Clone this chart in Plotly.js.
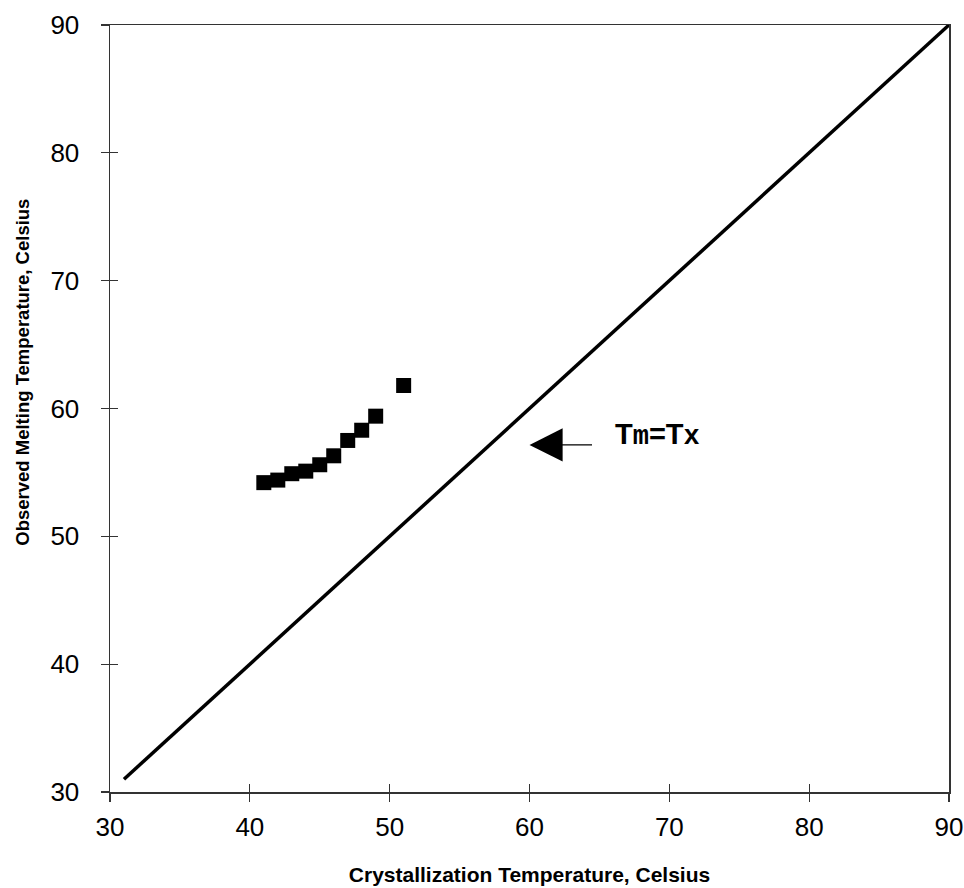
<!DOCTYPE html>
<html>
<head>
<meta charset="utf-8">
<script src="https://cdn.plot.ly/plotly-3.0.1.min.js"></script>
<style>html,body{margin:0;padding:0;background:#fff;}#chart{width:964px;height:888px;}</style>
</head>
<body>
<div id="chart"></div>
<script>
// Observed data: crystallization temperature vs observed melting temperature
const crystTemp = [41, 42, 43, 44, 45, 46, 47, 48, 49, 51];
const meltTemp  = [54.2, 54.4, 54.9, 55.1, 55.6, 56.3, 57.5, 58.3, 59.4, 61.8];
// Tm = Tx reference line
const lineX = [31, 90];
const lineY = [31, 90];
const tickVals = [30, 40, 50, 60, 70, 80, 90];
const tickText = ['30', '40', '50', '60', '70', '80', '90'];
const xTitle = 'Crystallization Temperature, Celsius';
const yTitle = 'Observed Melting Temperature, Celsius';

const axisFont = {family: 'Liberation Sans, Arial, sans-serif', size: 26, color: '#000'};
const titleFont = {family: 'Liberation Sans, Arial, sans-serif', size: 21, color: '#000', weight: 'bold'};

const traces = [
  {x: lineX, y: lineY, mode: 'lines', type: 'scatter',
   line: {color: '#000', width: 3.5}, cliponaxis: false, hoverinfo: 'skip', showlegend: false},
  {x: crystTemp, y: meltTemp, mode: 'markers', type: 'scatter',
   marker: {symbol: 'square', size: 15, color: '#000', line: {width: 0}}, showlegend: false},
  // invisible trace on overlay axes to draw inward half of crossing ticks
  {x: [30], y: [30], xaxis: 'x2', yaxis: 'y2', mode: 'markers', marker: {opacity: 0}, hoverinfo: 'skip', showlegend: false}
];

const baseAxis = {
  range: [30, 90], tickvals: tickVals, ticktext: tickText,
  showgrid: false, zeroline: false, showline: true, linecolor: '#333', linewidth: 1.5,
  mirror: true, ticks: 'outside', ticklen: 8, tickwidth: 1.2, tickcolor: '#333',
  tickfont: axisFont
};

const layout = {
  width: 964, height: 888,
  margin: {l: 110, r: 15, t: 25, b: 96},
  paper_bgcolor: '#fff', plot_bgcolor: '#fff',
  showlegend: false,
  xaxis: Object.assign({}, baseAxis, {
    ticklabelstandoff: 3,
    title: {text: xTitle, font: titleFont, standoff: 26}
  }),
  yaxis: Object.assign({}, baseAxis, {
    ticklabelstandoff: 16
  }),
  xaxis2: {range: [30, 90], overlaying: 'x', tickvals: tickVals, showticklabels: false,
    ticks: 'inside', ticklen: 8, tickwidth: 1.2, tickcolor: '#333', showgrid: false, zeroline: false, showline: false},
  yaxis2: {range: [30, 90], overlaying: 'y', tickvals: tickVals, showticklabels: false,
    ticks: 'inside', ticklen: 8, tickwidth: 1.2, tickcolor: '#333', showgrid: false, zeroline: false, showline: false},
  annotations: [
    {xref: 'paper', yref: 'paper', x: -0.104, y: 0.5476, text: yTitle, textangle: -90,
     showarrow: false, font: {family: 'Liberation Sans, Arial, sans-serif', size: 18.5, color: '#000', weight: 'bold'},
     xanchor: 'center', yanchor: 'middle'},
    {xref: 'x', yref: 'y', x: 60, y: 57.15, text: '', showarrow: true,
     ax: 64, ay: 0, arrowhead: 2, arrowwidth: 1.3, arrowsize: 5.1, arrowcolor: '#000', standoff: 0},
    {xref: 'x', yref: 'y', x: 65.97, y: 57.9, xanchor: 'left', yanchor: 'middle', showarrow: false,
     text: "<b>T</b><span style='font-family:Liberation Mono, Courier New, monospace;font-size:27px;font-weight:bold'>m</span><b>=T</b><span style='font-family:Liberation Mono, Courier New, monospace;font-size:27px;font-weight:bold'>x</span>",
     font: {family: 'Liberation Sans, Arial, sans-serif', size: 29, color: '#000'}}
  ]
};

Plotly.newPlot('chart', traces, layout, {displayModeBar: false, staticPlot: true});
</script>
</body>
</html>
